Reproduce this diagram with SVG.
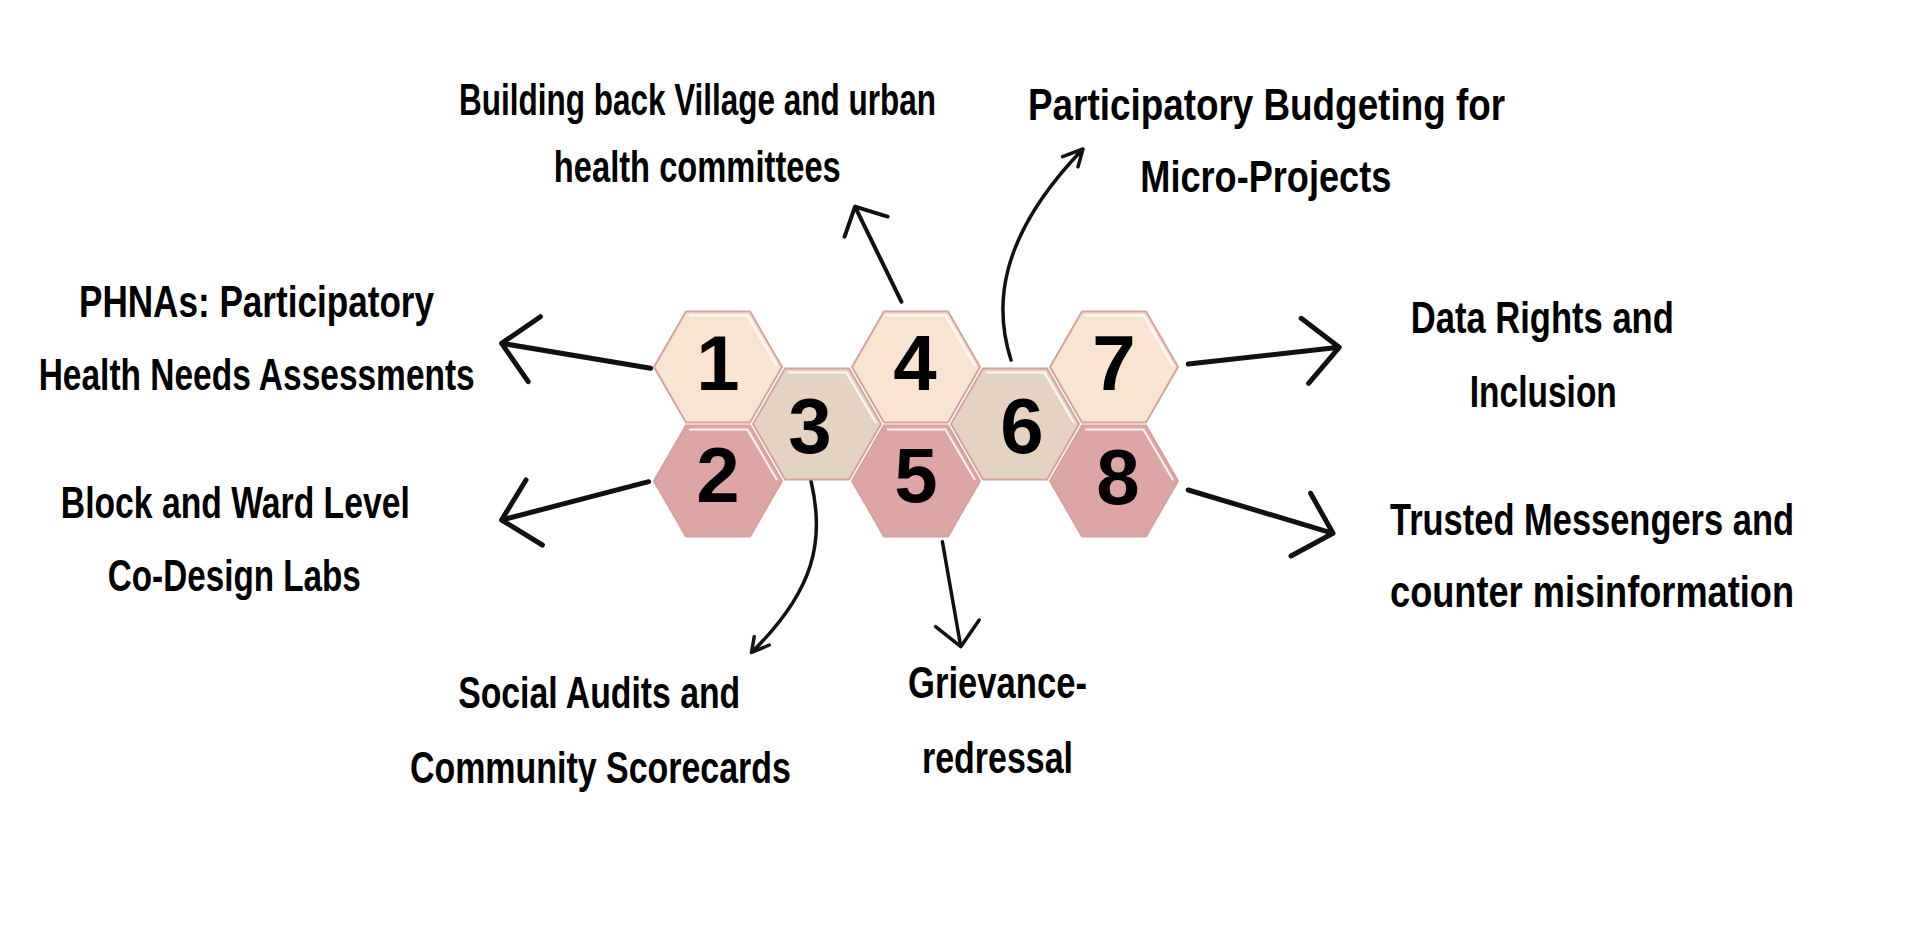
<svg xmlns="http://www.w3.org/2000/svg" xmlns:xlink="http://www.w3.org/1999/xlink" width="1912" height="944" viewBox="0 0 1912 944">
<style>
.hex{stroke:#D6A29B;stroke-width:2}
.c1{fill:#F8E4D0}
.c2{fill:#DDA5A3}
.c3{fill:#E5D3C2}
.num{font-family:"Liberation Sans",Arial,sans-serif;font-weight:bold;font-size:78px;fill:#000;text-anchor:middle}
.lbl{font-family:"Liberation Sans",Arial,sans-serif;font-weight:bold;font-size:44px;fill:#000;text-anchor:middle}
.ln{fill:none;stroke:#111;stroke-linecap:round;stroke-linejoin:round}
.w5{stroke-width:5}
.w4{stroke-width:4}
.w3{stroke-width:3.5}
</style>
<defs>
<polygon id="hex" points="-64,0 -32,-55.4 32,-55.4 64,0 32,55.4 -32,55.4"/>
<polyline id="hl" points="-29,-51.5 29.5,-51.5 59,-1" fill="none" stroke="#FFFFFF" stroke-width="2.2" stroke-opacity="0.85"/>
</defs>
<rect x="0" y="0" width="1912" height="944" fill="#FFFFFF"/>

<g id="connectors">
<path class="ln w5" d="M650.6,368.3 L501.6,343.3 M540.4,316.7 L501.6,343.3 L528.2,381.7"/>
<path class="ln w5" d="M648.6,481.7 L501.6,520 M526,480 L501.6,520 L542.4,545"/>
<path class="ln w4" d="M901.4,301.7 L855,206.7 M844.6,236.7 L855,206.7 L887.6,216.7"/>
<path class="ln w3" d="M1011,360 C995,310 995,240 1083,149 M1062.6,156.7 L1083,149 L1078,166.7"/>
<path class="ln w5" d="M1188.2,364 L1339.2,347.3 M1301.2,318.3 L1339.2,347.3 L1308.6,383.3"/>
<path class="ln w5" d="M1188.2,490 L1333,533.3 M1310.6,493.3 L1333,533.3 L1291,556"/>
<path class="ln w3" d="M811,481 C825,540 815,590 751.5,652.5 M754.2,636.7 L751.5,652.5 L769.3,645"/>
<path class="ln w3" d="M942.4,541.7 L960.8,646.7 M935.6,626.7 L960.8,646.7 L979.2,620"/>
</g>

<g id="node1">
<use xlink:href="#hex" href="#hex" class="hex c1" transform="translate(718,367)"/>
<use xlink:href="#hl" href="#hl" transform="translate(718,367)"/>
<text class="num" x="718" y="390">1</text>
</g>
<g id="node2">
<use xlink:href="#hex" href="#hex" class="hex c2" transform="translate(718,481)"/>
<use xlink:href="#hl" href="#hl" transform="translate(718,481)"/>
<text class="num" x="718" y="502">2</text>
</g>
<g id="node3">
<use xlink:href="#hex" href="#hex" class="hex c3" transform="translate(817,424)"/>
<use xlink:href="#hl" href="#hl" transform="translate(817,424)"/>
<text class="num" x="810" y="453">3</text>
</g>
<g id="node4">
<use xlink:href="#hex" href="#hex" class="hex c1" transform="translate(916,367)"/>
<use xlink:href="#hl" href="#hl" transform="translate(916,367)"/>
<text class="num" x="915" y="390">4</text>
</g>
<g id="node5">
<use xlink:href="#hex" href="#hex" class="hex c2" transform="translate(916,481)"/>
<use xlink:href="#hl" href="#hl" transform="translate(916,481)"/>
<text class="num" x="916" y="502">5</text>
</g>
<g id="node6">
<use xlink:href="#hex" href="#hex" class="hex c3" transform="translate(1015,424)"/>
<use xlink:href="#hl" href="#hl" transform="translate(1015,424)"/>
<text class="num" x="1022" y="453">6</text>
</g>
<g id="node7">
<use xlink:href="#hex" href="#hex" class="hex c1" transform="translate(1114,367)"/>
<use xlink:href="#hl" href="#hl" transform="translate(1114,367)"/>
<text class="num" x="1114" y="390">7</text>
</g>
<g id="node8">
<use xlink:href="#hex" href="#hex" class="hex c2" transform="translate(1114,481)"/>
<use xlink:href="#hl" href="#hl" transform="translate(1114,481)"/>
<text class="num" x="1118" y="504">8</text>
</g>

<g id="label-phnas">
<text class="lbl" transform="translate(256.5,317) scale(0.72,1)" textLength="493.1" lengthAdjust="spacingAndGlyphs">PHNAs: Participatory</text>
<text class="lbl" transform="translate(256.7,390) scale(0.72,1)" textLength="605.6" lengthAdjust="spacingAndGlyphs">Health Needs Assessments</text>
</g>
<g id="label-block">
<text class="lbl" transform="translate(235.3,518) scale(0.72,1)" textLength="484.7" lengthAdjust="spacingAndGlyphs">Block and Ward Level</text>
<text class="lbl" transform="translate(234.3,591) scale(0.72,1)" textLength="351.4" lengthAdjust="spacingAndGlyphs">Co-Design Labs</text>
</g>
<g id="label-building">
<text class="lbl" transform="translate(697.5,115) scale(0.72,1)" textLength="662.5" lengthAdjust="spacingAndGlyphs">Building back Village and urban</text>
<text class="lbl" transform="translate(697.3,182) scale(0.72,1)" textLength="398.6" lengthAdjust="spacingAndGlyphs">health committees</text>
</g>
<g id="label-budgeting">
<text class="lbl" transform="translate(1266.5,120) scale(0.72,1)" textLength="662.5" lengthAdjust="spacingAndGlyphs">Participatory Budgeting for</text>
<text class="lbl" transform="translate(1265.8,192) scale(0.72,1)" textLength="348.6" lengthAdjust="spacingAndGlyphs">Micro-Projects</text>
</g>
<g id="label-data">
<text class="lbl" transform="translate(1542.3,333) scale(0.72,1)" textLength="365.3" lengthAdjust="spacingAndGlyphs">Data Rights and</text>
<text class="lbl" transform="translate(1543.3,407) scale(0.72,1)" textLength="204.2" lengthAdjust="spacingAndGlyphs">Inclusion</text>
</g>
<g id="label-trusted">
<text class="lbl" transform="translate(1592,535) scale(0.72,1)" textLength="561.1" lengthAdjust="spacingAndGlyphs">Trusted Messengers and</text>
<text class="lbl" transform="translate(1592,607) scale(0.72,1)" textLength="561.1" lengthAdjust="spacingAndGlyphs">counter misinformation</text>
</g>
<g id="label-social">
<text class="lbl" transform="translate(599.2,708) scale(0.72,1)" textLength="391.7" lengthAdjust="spacingAndGlyphs">Social Audits and</text>
<text class="lbl" transform="translate(600.4,783) scale(0.72,1)" textLength="529.2" lengthAdjust="spacingAndGlyphs">Community Scorecards</text>
</g>
<g id="label-grievance">
<text class="lbl" transform="translate(997.5,698) scale(0.72,1)" textLength="248.6" lengthAdjust="spacingAndGlyphs">Grievance-</text>
<text class="lbl" transform="translate(997.5,773) scale(0.72,1)" textLength="209.7" lengthAdjust="spacingAndGlyphs">redressal</text>
</g>
</svg>
